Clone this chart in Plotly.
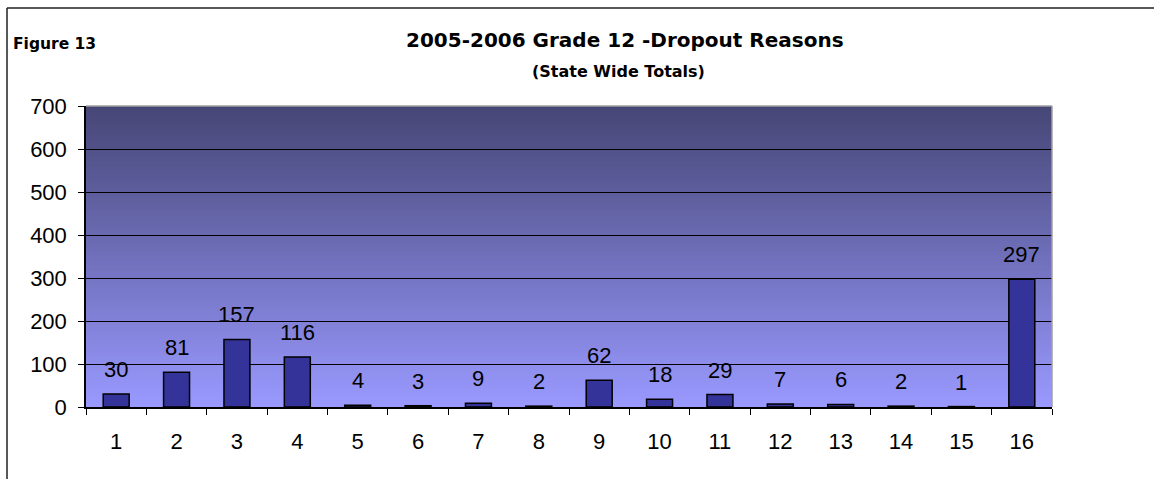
import plotly.graph_objects as go

categories = [str(i) for i in range(1, 17)]
values = [30, 81, 157, 116, 4, 3, 9, 2, 62, 18, 29, 7, 6, 2, 1, 297]
y_ticks = [0, 100, 200, 300, 400, 500, 600, 700]

W, H = 1154, 479
ML, MR, MT, MB = 86, 102, 106, 72
PW, PH = W - ML - MR, H - MT - MB

FONT = "Arial, Liberation Sans, sans-serif"
TFONT = "DejaVu Sans, Verdana, sans-serif"

fig = go.Figure()
fig.add_trace(go.Bar(
    x=categories, y=values,
    marker=dict(color="#333399", line=dict(color="#000000", width=1.5)),
    width=0.43,
))

shapes = []
# gradient background (each strip runs up to the top; later strips overlay)
n = 150
top = (70, 70, 118)
bot = (153, 153, 255)
for i in range(n):
    t = i / (n - 1)  # 0 bottom -> 1 top
    c = tuple(round(bot[k] + (top[k] - bot[k]) * t) for k in range(3))
    shapes.append(dict(type="rect", xref="paper", yref="paper", x0=0, x1=1,
                       y0=i / n, y1=1, fillcolor="rgb(%d,%d,%d)" % c,
                       line=dict(width=0), layer="below"))
# plot area top/right gray border
shapes.append(dict(type="line", xref="paper", yref="paper", x0=0, x1=1, y0=1, y1=1,
                   line=dict(color="#A0A0A0", width=1.5)))
shapes.append(dict(type="line", xref="paper", yref="paper", x0=1, x1=1, y0=0, y1=1,
                   line=dict(color="#A0A0A0", width=1.5)))


def px_x(px):
    return (px - ML) / PW


def px_y(py):
    return (H - MB - py) / PH


# outer frame lines (left and top)
shapes.append(dict(type="line", xref="paper", yref="paper", x0=px_x(7), x1=px_x(7),
                   y0=px_y(8), y1=px_y(480), line=dict(color="#202020", width=1.5)))
shapes.append(dict(type="line", xref="paper", yref="paper", x0=px_x(7), x1=px_x(1155),
                   y0=px_y(8), y1=px_y(8), line=dict(color="#202020", width=1.5)))

annotations = []
for i, v in enumerate(values):
    annotations.append(dict(x=i, y=v, xref="x", yref="y", text=str(v), showarrow=False,
                            yanchor="bottom", yshift=10,
                            font=dict(family=FONT, size=22, color="#000000")))
annotations.append(dict(x=px_x(11), y=px_y(44), xref="paper", yref="paper", text="<b>Figure 13</b>",
                        showarrow=False, xanchor="left", yanchor="middle",
                        font=dict(family=TFONT, size=15.5, color="#000000")))
annotations.append(dict(x=px_x(625), y=px_y(40), xref="paper", yref="paper",
                        text="<b>2005-2006 Grade 12 -Dropout Reasons</b>",
                        showarrow=False, xanchor="center", yanchor="middle",
                        font=dict(family=TFONT, size=20, color="#000000")))
annotations.append(dict(x=px_x(618), y=px_y(72), xref="paper", yref="paper",
                        text="<b>(State Wide Totals)</b>",
                        showarrow=False, xanchor="center", yanchor="middle",
                        font=dict(family=TFONT, size=16, color="#000000")))

fig.update_layout(
    width=W, height=H,
    margin=dict(l=ML, r=MR, t=MT, b=MB),
    paper_bgcolor="#FFFFFF",
    plot_bgcolor="rgba(0,0,0,0)",
    showlegend=False,
    shapes=shapes,
    annotations=annotations,
    xaxis=dict(type="category", tickson="boundaries", ticks="outside", ticklen=6,
               tickcolor="#000000", showline=True, linecolor="#000000", linewidth=1.5,
               showgrid=False, tickfont=dict(family=FONT, size=22, color="#000000"),
               ticklabelstandoff=14, range=[-0.5, 15.5]),
    yaxis=dict(range=[0, 700], tickvals=y_ticks, ticks="outside", ticklen=6,
               tickcolor="#000000", showline=True, linecolor="#000000", linewidth=1.5,
               showgrid=True, gridcolor="#000000", gridwidth=1, zeroline=False,
               ticklabelstandoff=7,
               tickfont=dict(family=FONT, size=22, color="#000000")),
)

fig.write_html("out.html", config={"displayModeBar": False},
               post_script="document.body.style.margin='0';document.body.style.padding='0';")
